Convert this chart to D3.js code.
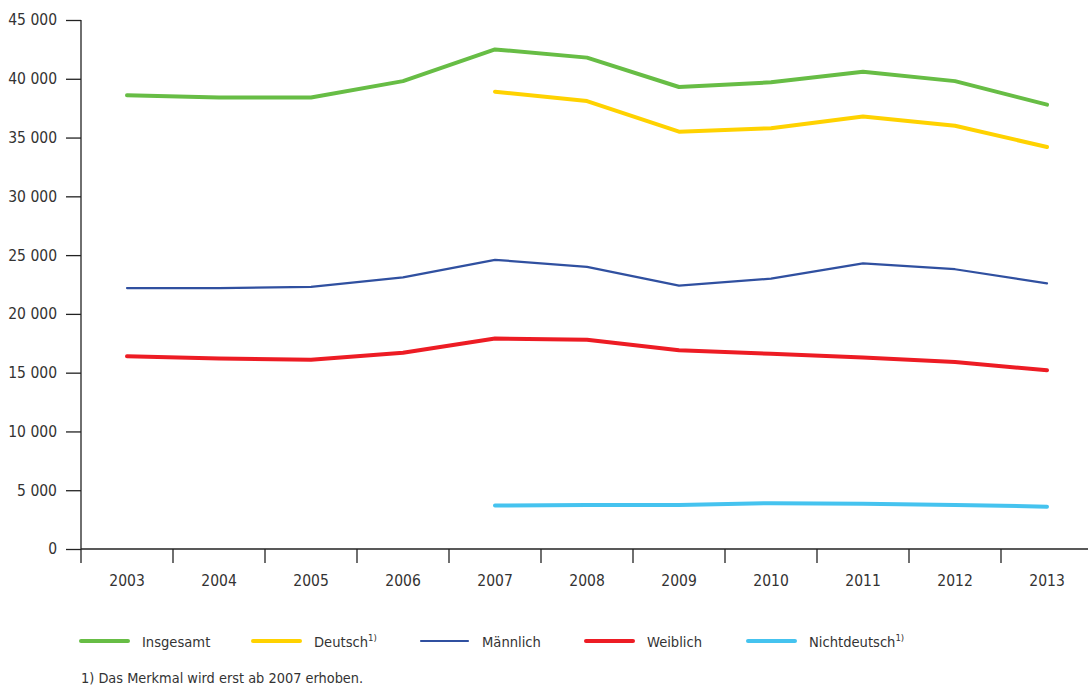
<!DOCTYPE html>
<html><head><meta charset="utf-8">
<script src="https://cdn.jsdelivr.net/npm/d3@7"></script>
<style>
body{margin:0;background:#fff;}
text{font-family:"Liberation Sans Narrow","DejaVu Sans Condensed",sans-serif;fill:#333;}
</style></head>
<body><svg id="c" width="1088" height="687"></svg>
<script>
const years = ["2003","2004","2005","2006","2007","2008","2009","2010","2011","2012","2013"];
const yTicks = [0,5000,10000,15000,20000,25000,30000,35000,40000,45000];
const insgesamt = [38600,38400,38400,39800,42500,41800,39300,39700,40600,39800,37800];
const deutsch = [null,null,null,null,38900,38100,35500,35800,36800,36000,34200];
const maennlich = [22200,22200,22300,23100,24600,24000,22400,23000,24300,23800,22600];
const weiblich = [16400,16200,16100,16700,17900,17800,16900,16600,16300,15900,15200];
const nichtdeutsch = [null,null,null,null,3700,3750,3750,3900,3850,3750,3600];
const seriesNames = ["Insgesamt","Deutsch","Männlich","Weiblich","Nichtdeutsch"];
const seriesSup = ["","1)","","","1)"];
const colors = ["#67bd45","#ffd200","#3050a0","#ed1c24","#45c3ef"];
const widths = [4,4,2.2,4,4];
const footnote = "1) Das Merkmal wird erst ab 2007 erhoben.";

(function(){
const allSeries = [insgesamt,deutsch,maennlich,weiblich,nichtdeutsch];
const svg = d3.select("#c");
const mL = 81, mR = 1093, mT = 20, mB = 549;
const x = d3.scaleBand().domain(years).range([mL,mR]);
const y = d3.scaleLinear().domain([0,45000]).range([mB,mT]);
const fmt = v => d3.format(",")(v).replace(/,/g," ");

// y axis
const ya = svg.append("g").attr("transform",`translate(${mL},0)`)
  .call(d3.axisLeft(y).tickValues(yTicks).tickSize(15).tickPadding(9).tickFormat(fmt));
ya.select(".domain").attr("stroke","#222").attr("stroke-width",1.3).attr("d",`M0,${mT}V${mB}`);
ya.selectAll(".tick line").attr("stroke","#222").attr("stroke-width",1.3);
ya.selectAll(".tick text").style("font-size","15.5px").attr("fill","#333");

// x axis
const xa = svg.append("g").attr("transform",`translate(0,${mB})`)
  .call(d3.axisBottom(x).tickSize(0).tickPadding(26));
xa.select(".domain").attr("stroke","#222").attr("stroke-width",1.3).attr("d",`M${mL},0H${mR}`);
xa.selectAll(".tick text").style("font-size","15.5px").attr("fill","#333");
svg.append("g").selectAll("line").data(years).join("line")
  .attr("x1",d=>x(d)).attr("x2",d=>x(d)).attr("y1",mB).attr("y2",mB+14)
  .attr("stroke","#222").attr("stroke-width",1.3);

// lines
const line = d3.line().defined(d=>d[1]!=null).x(d=>x(d[0])+x.bandwidth()/2).y(d=>y(d[1]));
allSeries.forEach((s,i)=>{
  svg.append("path").datum(years.map((yr,j)=>[yr,s[j]]))
    .attr("d",line).attr("fill","none").attr("stroke",colors[i])
    .attr("stroke-width",widths[i]).attr("stroke-linejoin","round").attr("stroke-linecap","round");
});

// legend
const legX = [81,253,421,586,748];
const ly = 641;
seriesNames.forEach((n,i)=>{
  svg.append("line").attr("x1",legX[i]).attr("x2",legX[i]+47).attr("y1",ly).attr("y2",ly)
    .attr("stroke",colors[i]).attr("stroke-width",widths[i]).attr("stroke-linecap","round");
  const t = svg.append("text").attr("x",legX[i]+61).attr("y",ly+5.5).style("font-size","14.6px").text(n);
  if(seriesSup[i]) t.append("tspan").attr("dy",-6).style("font-size","9.5px").text(seriesSup[i]);
});
svg.append("text").attr("x",81).attr("y",683).style("font-size","14.4px").text(footnote);
})();
</script></body></html>
